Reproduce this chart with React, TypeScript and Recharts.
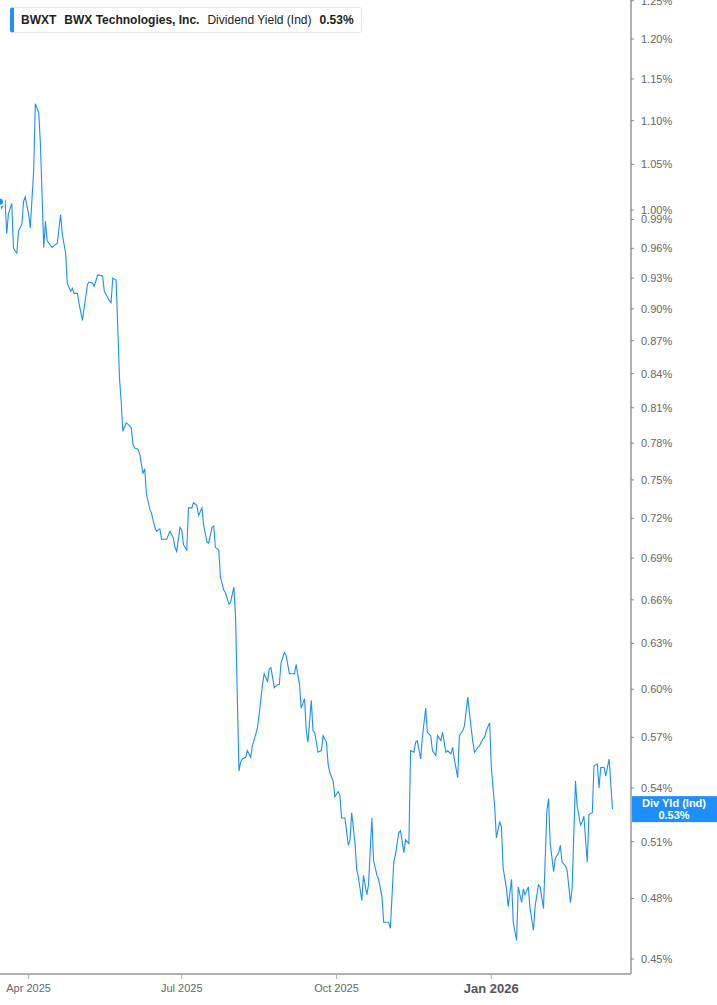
import React from 'react';
import { LineChart, Line, XAxis, YAxis, ReferenceLine } from 'recharts';

// daily dividend yield (%)
const dates = [
  '2025-03-15', '2025-03-16', '2025-03-18', '2025-03-19', '2025-03-20', '2025-03-22', '2025-03-23', '2025-03-25',
  '2025-03-26', '2025-03-28', '2025-03-29', '2025-03-30', '2025-04-01', '2025-04-02', '2025-04-04', '2025-04-05',
  '2025-04-07', '2025-04-08', '2025-04-10', '2025-04-11', '2025-04-12', '2025-04-14', '2025-04-15', '2025-04-17',
  '2025-04-18', '2025-04-20', '2025-04-21', '2025-04-23', '2025-04-24', '2025-04-26', '2025-04-27', '2025-04-28',
  '2025-04-30', '2025-05-01', '2025-05-03', '2025-05-06', '2025-05-07', '2025-05-09', '2025-05-10', '2025-05-12',
  '2025-05-13', '2025-05-15', '2025-05-16', '2025-05-18', '2025-05-19', '2025-05-20', '2025-05-21', '2025-05-23',
  '2025-05-24', '2025-05-25', '2025-05-26', '2025-05-27', '2025-05-29', '2025-05-30', '2025-06-01', '2025-06-02',
  '2025-06-03', '2025-06-05', '2025-06-06', '2025-06-08', '2025-06-09', '2025-06-10', '2025-06-12', '2025-06-13',
  '2025-06-15', '2025-06-16', '2025-06-18', '2025-06-19', '2025-06-21', '2025-06-22', '2025-06-24', '2025-06-26',
  '2025-06-27', '2025-06-28', '2025-06-30', '2025-07-01', '2025-07-02', '2025-07-04', '2025-07-05', '2025-07-07',
  '2025-07-08', '2025-07-10', '2025-07-11', '2025-07-13', '2025-07-14', '2025-07-16', '2025-07-17', '2025-07-19',
  '2025-07-20', '2025-07-21', '2025-07-23', '2025-07-24', '2025-07-26', '2025-07-27', '2025-07-29', '2025-07-30',
  '2025-08-01', '2025-08-02', '2025-08-03', '2025-08-04', '2025-08-05', '2025-08-06', '2025-08-08', '2025-08-09',
  '2025-08-11', '2025-08-12', '2025-08-14', '2025-08-15', '2025-08-16', '2025-08-18', '2025-08-19', '2025-08-21',
  '2025-08-22', '2025-08-23', '2025-08-25', '2025-08-27', '2025-08-28', '2025-08-29', '2025-08-31', '2025-09-01',
  '2025-09-03', '2025-09-05', '2025-09-06', '2025-09-07', '2025-09-09', '2025-09-10', '2025-09-12', '2025-09-13',
  '2025-09-14', '2025-09-16', '2025-09-17', '2025-09-18', '2025-09-20', '2025-09-22', '2025-09-23', '2025-09-25',
  '2025-09-26', '2025-09-27', '2025-09-29', '2025-09-30', '2025-10-02', '2025-10-03', '2025-10-04', '2025-10-06',
  '2025-10-08', '2025-10-09', '2025-10-10', '2025-10-12', '2025-10-13', '2025-10-14', '2025-10-16', '2025-10-17',
  '2025-10-19', '2025-10-20', '2025-10-22', '2025-10-23', '2025-10-25', '2025-10-26', '2025-10-28', '2025-10-29',
  '2025-10-31', '2025-11-01', '2025-11-02', '2025-11-04', '2025-11-05', '2025-11-07', '2025-11-08', '2025-11-10',
  '2025-11-11', '2025-11-13', '2025-11-14', '2025-11-16', '2025-11-17', '2025-11-18', '2025-11-20', '2025-11-21',
  '2025-11-23', '2025-11-24', '2025-11-26', '2025-11-27', '2025-11-29', '2025-11-30', '2025-12-02', '2025-12-03',
  '2025-12-05', '2025-12-06', '2025-12-08', '2025-12-09', '2025-12-10', '2025-12-12', '2025-12-13', '2025-12-15',
  '2025-12-16', '2025-12-18', '2025-12-19', '2025-12-21', '2025-12-22', '2025-12-24', '2025-12-25', '2025-12-27',
  '2025-12-28', '2025-12-29', '2025-12-31', '2026-01-01', '2026-01-03', '2026-01-04', '2026-01-06', '2026-01-07',
  '2026-01-08', '2026-01-10', '2026-01-11', '2026-01-13', '2026-01-14', '2026-01-16', '2026-01-17', '2026-01-19',
  '2026-01-20', '2026-01-21', '2026-01-23', '2026-01-24', '2026-01-26', '2026-01-27', '2026-01-29', '2026-01-30',
  '2026-02-01', '2026-02-03', '2026-02-04', '2026-02-05', '2026-02-07', '2026-02-08', '2026-02-10', '2026-02-11',
  '2026-02-12', '2026-02-14', '2026-02-15', '2026-02-17', '2026-02-18', '2026-02-20', '2026-02-21', '2026-02-23',
  '2026-02-24', '2026-02-25', '2026-02-27', '2026-02-28', '2026-03-02', '2026-03-03', '2026-03-05', '2026-03-06',
  '2026-03-07', '2026-03-09', '2026-03-10', '2026-03-12', '2026-03-14',
];

const yields = [
  1.009, 1.002, 1.011, 0.975, 0.996, 1.007, 0.960, 0.955,
  0.978, 0.985, 1.009, 1.014, 0.996, 0.981, 1.043, 1.120,
  1.110, 1.074, 0.961, 0.988, 0.968, 0.963, 0.961, 0.964,
  0.965, 0.995, 0.975, 0.955, 0.925, 0.917, 0.920, 0.915,
  0.915, 0.905, 0.889, 0.924, 0.926, 0.925, 0.922, 0.933,
  0.933, 0.932, 0.917, 0.911, 0.908, 0.906, 0.930, 0.928,
  0.882, 0.836, 0.816, 0.790, 0.797, 0.796, 0.793, 0.779,
  0.776, 0.775, 0.771, 0.755, 0.759, 0.739, 0.727, 0.724,
  0.713, 0.710, 0.712, 0.704, 0.704, 0.704, 0.710, 0.705,
  0.698, 0.695, 0.713, 0.711, 0.700, 0.696, 0.728, 0.728,
  0.732, 0.730, 0.722, 0.728, 0.715, 0.702, 0.701, 0.713,
  0.714, 0.698, 0.696, 0.676, 0.667, 0.665, 0.657, 0.658,
  0.669, 0.648, 0.597, 0.550, 0.555, 0.557, 0.558, 0.562,
  0.558, 0.565, 0.572, 0.576, 0.584, 0.603, 0.610, 0.605,
  0.613, 0.614, 0.601, 0.603, 0.603, 0.617, 0.624, 0.622,
  0.610, 0.610, 0.610, 0.616, 0.603, 0.588, 0.594, 0.574,
  0.567, 0.593, 0.574, 0.573, 0.561, 0.562, 0.571, 0.567,
  0.554, 0.549, 0.544, 0.535, 0.538, 0.536, 0.523, 0.523,
  0.508, 0.511, 0.526, 0.509, 0.495, 0.491, 0.479, 0.492,
  0.482, 0.487, 0.523, 0.500, 0.492, 0.490, 0.481, 0.468,
  0.468, 0.468, 0.465, 0.499, 0.503, 0.515, 0.516, 0.504,
  0.511, 0.509, 0.562, 0.561, 0.567, 0.568, 0.557, 0.570,
  0.588, 0.573, 0.571, 0.562, 0.559, 0.571, 0.568, 0.573,
  0.561, 0.562, 0.560, 0.564, 0.557, 0.546, 0.571, 0.574,
  0.577, 0.595, 0.585, 0.567, 0.561, 0.564, 0.565, 0.569,
  0.570, 0.574, 0.579, 0.552, 0.529, 0.512, 0.521, 0.518,
  0.496, 0.485, 0.476, 0.490, 0.468, 0.459, 0.486, 0.478,
  0.485, 0.482, 0.486, 0.475, 0.464, 0.476, 0.487, 0.486,
  0.475, 0.527, 0.534, 0.509, 0.494, 0.501, 0.504, 0.508,
  0.499, 0.497, 0.495, 0.478, 0.485, 0.544, 0.530, 0.519,
  0.521, 0.524, 0.499, 0.525, 0.526, 0.553, 0.554, 0.540,
  0.552, 0.552, 0.547, 0.557, 0.528,
];

const yTicks = [0.45, 0.48, 0.51, 0.54, 0.57, 0.6, 0.63, 0.66, 0.69, 0.72, 0.75, 0.78, 0.81, 0.84, 0.87, 0.9, 0.93, 0.96, 0.99, 1.0, 1.05, 1.1, 1.15, 1.2, 1.25];
const xTickDates = ['2025-04-01', '2025-07-01', '2025-10-01', '2026-01-01'];
const xTickLabels = ['Apr 2025', 'Jul 2025', 'Oct 2025', 'Jan 2026'];

const BLUE = '#1e8fff';
const FONT = '"Liberation Sans", Arial, sans-serif';

const toTime = (d: string) => Date.parse(d + 'T00:00:00Z');
const data = dates.map((d, i) => ({ t: toTime(d), v: yields[i] }));
const xTicks = xTickDates.map(toTime);
const lastValue = yields[yields.length - 1];

const XTick = (props: any) => {
  const { x, y, payload } = props;
  const i = xTicks.indexOf(payload.value);
  const isYear = xTickLabels[i]?.startsWith('Jan');
  return (
    <text
      x={x}
      y={y}
      dy="0.71em"
      textAnchor="middle"
      fontFamily={FONT}
      fontSize={isYear ? 13 : 11}
      fontWeight={isYear ? 'bold' : 'normal'}
      fill={isYear ? '#555' : '#666'}
    >
      {xTickLabels[i]}
    </text>
  );
};

const LastTag = (props: any) => {
  const { viewBox } = props;
  const x = viewBox.x + viewBox.width + 1;
  const y = viewBox.y;
  return (
    <g>
      <rect x={x} y={y - 13} width={85} height={26} fill={BLUE} />
      <text x={x + 42} y={y - 2} textAnchor="middle" fill="#fff" fontSize={11} fontWeight="bold" fontFamily={FONT}>
        Div Yld (Ind)
      </text>
      <text x={x + 42} y={y + 9.5} textAnchor="middle" fill="#fff" fontSize={11} fontWeight="bold" fontFamily={FONT}>
        {lastValue.toFixed(2)}%
      </text>
    </g>
  );
};

export default function App() {
  return (
    <div style={{ position: 'absolute', left: 0, top: 0, width: 717, height: 1005, background: '#fff' }}>
      <LineChart width={717} height={1005} data={data} margin={{ top: 0, right: 0, bottom: 0, left: 0 }}>
        <XAxis
          dataKey="t"
          type="number"
          domain={[toTime('2025-03-15'), toTime('2026-03-25')]}
          ticks={xTicks}
          interval={0}
          allowDataOverflow
          height={31}
          tickSize={5}
          tickMargin={5}
          axisLine={{ stroke: '#b0b0b0', strokeWidth: 2 }}
          tickLine={{ stroke: '#b0b0b0' }}
          tick={<XTick />}
        />
        <YAxis
          orientation="right"
          type="number"
          scale="log"
          domain={[0.4429, 1.251]}
          allowDataOverflow
          ticks={yTicks}
          interval={0}
          width={86}
          tickSize={3}
          tickMargin={7}
          axisLine={{ stroke: '#b0b0b0', strokeWidth: 2 }}
          tickLine={{ stroke: '#888' }}
          tick={{ fill: '#666', fontSize: 11, fontFamily: FONT }}
          tickFormatter={(v: number) => v.toFixed(2) + '%'}
        />
        <Line
          type="linear"
          dataKey="v"
          stroke={BLUE}
          strokeWidth={1.1}
          dot={false}
          isAnimationActive={false}
        />
        <ReferenceLine y={lastValue} stroke="none" label={<LastTag />} />
      </LineChart>
      <div
        style={{
          position: 'absolute',
          left: 10,
          top: 7,
          height: 26,
          boxSizing: 'border-box',
          display: 'flex',
          alignItems: 'center',
          gap: 8,
          padding: '0 7px 0 7px',
          background: '#fff',
          border: '1px solid #e6e6e6',
          borderLeft: `4px solid ${BLUE}`,
          borderRadius: 3,
          fontFamily: FONT,
          fontSize: 12,
          color: '#222',
          whiteSpace: 'nowrap',
        }}
      >
        <b>BWXT</b>
        <b>BWX Technologies, Inc.</b>
        <span>Dividend Yield (Ind)</span>
        <b>{lastValue.toFixed(2)}%</b>
      </div>
    </div>
  );
}
